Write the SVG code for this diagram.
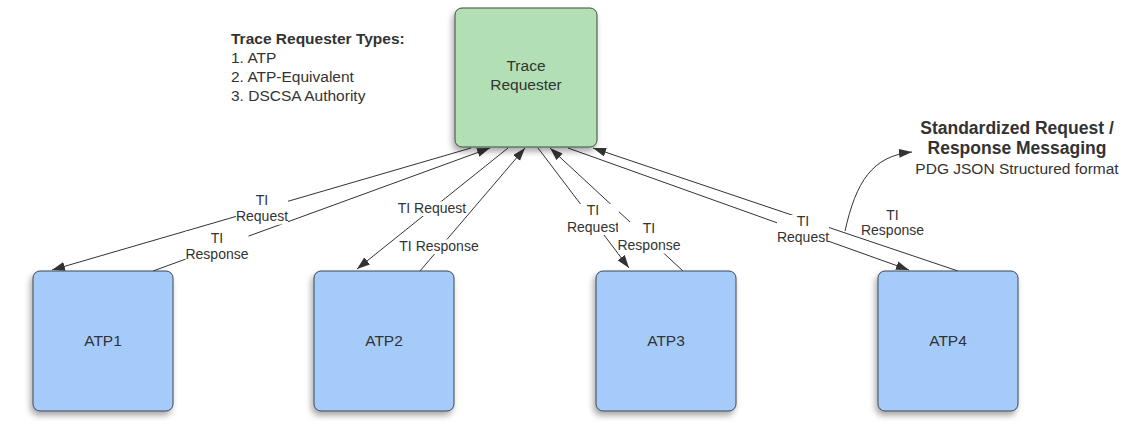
<svg xmlns="http://www.w3.org/2000/svg" width="1136" height="444" viewBox="0 0 1136 444">
<style>
  text { font-family: "Liberation Sans", Arial, sans-serif; fill: #333333; }
  .node-green { fill: #b2dfb4; stroke: #3f4a45; stroke-width: 1; }
  .node-blue { fill: #a4cbfa; stroke: #3f4654; stroke-width: 1; }
  .ntext { font-size: 15.5px; text-anchor: middle; }
  .conn { fill: none; stroke: #333333; stroke-width: 1; }
  .lbl { font-size: 14px; text-anchor: middle; }
  .lblbg { fill: #ffffff; }
</style>
<defs>
  <filter id="shadow" x="-20%" y="-20%" width="140%" height="140%">
    <feDropShadow dx="-2" dy="4" stdDeviation="3" flood-color="#000000" flood-opacity="0.35"/>
  </filter>
  <marker id="arrow" markerUnits="userSpaceOnUse" markerWidth="14" markerHeight="10" refX="13" refY="4.5" orient="auto">
    <path d="M0,0 L13,4.5 L0,9 z" fill="#333333"/>
  </marker>
</defs>
<rect width="1136" height="444" fill="#ffffff"/>

<g id="connectors">
  <line class="conn" x1="471" y1="148" x2="52" y2="270" marker-end="url(#arrow)"/>
  <line class="conn" x1="153" y1="271" x2="490" y2="148" marker-end="url(#arrow)"/>
  <line class="conn" x1="508" y1="148" x2="357" y2="269" marker-end="url(#arrow)"/>
  <line class="conn" x1="420" y1="271" x2="525" y2="148" marker-end="url(#arrow)"/>
  <line class="conn" x1="538" y1="148" x2="629" y2="268" marker-end="url(#arrow)"/>
  <line class="conn" x1="683" y1="271" x2="550" y2="148" marker-end="url(#arrow)"/>
  <line class="conn" x1="568" y1="148" x2="909" y2="270" marker-end="url(#arrow)"/>
  <line class="conn" x1="958" y1="271" x2="593" y2="148" marker-end="url(#arrow)"/>
  <path class="conn" d="M845,231 C856,182 872,156 912,152" marker-end="url(#arrow)"/>
</g>

<g id="labels">
  <rect class="lblbg" x="236" y="194" width="52" height="30.5"/>
  <text class="lbl" x="262" y="205">TI</text>
  <text class="lbl" x="262" y="221">Request</text>

  <rect class="lblbg" x="185.5" y="231.5" width="63" height="30.5"/>
  <text class="lbl" x="217" y="242.5">TI</text>
  <text class="lbl" x="217" y="258.5">Response</text>

  <rect class="lblbg" x="398" y="201.5" width="68" height="14.5"/>
  <text class="lbl" x="432" y="212.5">TI Request</text>

  <rect class="lblbg" x="399.5" y="239.5" width="79" height="14.5"/>
  <text class="lbl" x="439" y="250.5">TI Response</text>

  <rect class="lblbg" x="567" y="204" width="52" height="31"/>
  <text class="lbl" x="593" y="215">TI</text>
  <text class="lbl" x="593" y="231.5">Request</text>

  <rect class="lblbg" x="618" y="222" width="62" height="31.5"/>
  <text class="lbl" x="649" y="233">TI</text>
  <text class="lbl" x="649" y="250">Response</text>

  <rect class="lblbg" x="777" y="215" width="52" height="30"/>
  <text class="lbl" x="803" y="226">TI</text>
  <text class="lbl" x="803" y="241.5">Request</text>

  <text class="lbl" x="892.5" y="219.5">TI</text>
  <text class="lbl" x="892.5" y="235">Response</text>
</g>

<g id="trace-requester">
  <rect class="node-green" x="455" y="8" width="142" height="139" rx="7" ry="7" filter="url(#shadow)"/>
  <text class="ntext" x="526" y="71">Trace</text>
  <text class="ntext" x="526" y="89.5">Requester</text>
</g>

<g id="atp1">
  <rect class="node-blue" x="33" y="271" width="140" height="140" rx="7" ry="7" filter="url(#shadow)"/>
  <text class="ntext" x="103" y="346">ATP1</text>
</g>
<g id="atp2">
  <rect class="node-blue" x="314" y="271" width="140" height="140" rx="7" ry="7" filter="url(#shadow)"/>
  <text class="ntext" x="384" y="346">ATP2</text>
</g>
<g id="atp3">
  <rect class="node-blue" x="596" y="271" width="140" height="140" rx="7" ry="7" filter="url(#shadow)"/>
  <text class="ntext" x="666" y="346">ATP3</text>
</g>
<g id="atp4">
  <rect class="node-blue" x="878" y="271" width="140" height="140" rx="7" ry="7" filter="url(#shadow)"/>
  <text class="ntext" x="948" y="346">ATP4</text>
</g>

<g id="types-note">
  <text x="231" y="44" font-size="15.5" font-weight="bold">Trace Requester Types:</text>
  <text x="231" y="63" font-size="15.5">1. ATP</text>
  <text x="231" y="82" font-size="15.5">2. ATP-Equivalent</text>
  <text x="231" y="101" font-size="15.5">3. DSCSA Authority</text>
</g>

<g id="messaging-note">
  <text x="1017" y="134" font-size="17.5" font-weight="bold" text-anchor="middle">Standardized Request /</text>
  <text x="1017" y="154" font-size="17.5" font-weight="bold" text-anchor="middle">Response Messaging</text>
  <text x="1017" y="174" font-size="15.5" text-anchor="middle">PDG JSON Structured format</text>
</g>
</svg>
